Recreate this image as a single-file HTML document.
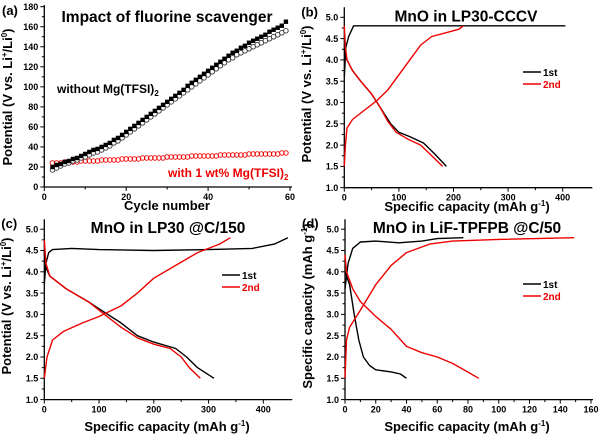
<!DOCTYPE html>
<html><head><meta charset="utf-8"><style>
body{margin:0;background:#fff;width:600px;height:436px;overflow:hidden}
svg{font-family:"Liberation Sans",Arial,sans-serif;font-weight:bold}
</style></head><body>
<svg id="fig" width="600" height="436" viewBox="0 0 600 436" xmlns="http://www.w3.org/2000/svg"></svg>
<script>
// Panel a data
const aCycles=[2,3,4,5,6,7,8,9,10,11,12,13,14,15,16,17,18,19,20,21,22,23,24,25,26,27,28,29,30,31,32,33,34,35,36,37,38,39,40,41,42,43,44,45,46,47,48,49,50,51,52,53,54,55,56,57,58,59];
const aWithoutFilled=[20,22,23,25,26,28,29,31,33,35,37,38,40,42,44,47,49,52,55,58,61,64,67,70,73,76,79,82,85,88,91,94,97,101,104,107,110,113,116,119,122,125,128,131,134,136,139,141,144,146,148,150,152,155,157,159,161,165];
const aWithoutOpen=[17,19,21,23,24,26,27,29,30,32,34,35,37,39,41,44,46,49,52,55,58,61,64,67,70,73,76,79,82,85,88,91,94,97,100,103,106,109,112,115,118,121,124,127,129,132,134,136,138,140,142,144,146,148,150,152,154,156];
const aWith=[24,24,24,25,25,25,25,26,26,26,26,26,27,27,27,27,27,28,28,28,28,28,29,29,29,29,29,29,30,30,30,30,30,30,31,31,31,31,31,31,31,32,32,32,32,32,32,32,33,33,33,33,33,33,33,33,34,34];
const aXTicks=[0,20,40,60];
const aYTicks=[0,20,40,60,80,100,120,140,160,180];
// Panel b data
const b1Dis=[[0,4.25],[5,4.0],[15,3.75],[30,3.5],[50,3.2],[70,2.8],[85,2.5],[100,2.3],[120,2.2],[145,2.05],[165,1.8],[187,1.5]];
const b1Chg=[[0,3.6],[3,4.3],[8,4.55],[17,4.8],[405,4.8]];
const b2Dis=[[0,4.8],[2,4.3],[5,4.0],[15,3.75],[30,3.5],[50,3.2],[65,2.9],[80,2.55],[95,2.3],[115,2.15],[140,2.0],[160,1.75],[180,1.5]];
const b2Chg=[[0,1.5],[2,2.0],[5,2.4],[15,2.6],[35,2.8],[60,3.05],[80,3.3],[100,3.65],[120,4.0],[140,4.35],[160,4.55],[190,4.65],[210,4.72],[218,4.8]];
// Panel c data
const c1Dis=[[0,4.5],[3,4.1],[10,3.9],[40,3.6],[80,3.3],[110,3.05],[140,2.8],[170,2.5],[200,2.35],[240,2.2],[260,2.0],[280,1.75],[310,1.5]];
const c1Chg=[[0,3.7],[3,4.2],[8,4.45],[15,4.52],[50,4.55],[100,4.52],[200,4.5],[300,4.52],[380,4.55],[420,4.65],[445,4.8]];
const c2Dis=[[0,4.75],[3,4.2],[10,3.9],[40,3.6],[80,3.3],[110,3.0],[140,2.7],[170,2.45],[200,2.3],[230,2.2],[250,2.0],[265,1.75],[285,1.5]];
const c2Chg=[[0,1.5],[5,2.0],[15,2.4],[35,2.6],[70,2.8],[100,2.95],[140,3.2],[170,3.5],[200,3.85],[240,4.15],[280,4.45],[320,4.65],[340,4.8]];
// Panel d data
const d1Dis=[[0,4.0],[3,3.7],[6,3.0],[9,2.4],[12,2.0],[16,1.8],[20,1.7],[30,1.65],[36,1.6],[40,1.5]];
const d1Chg=[[0,3.6],[2,4.2],[5,4.55],[10,4.7],[20,4.72],[35,4.68],[50,4.72],[60,4.78],[77,4.8]];
const d2Dis=[[0,4.4],[1,4.0],[5,3.6],[10,3.3],[20,2.95],[30,2.65],[40,2.25],[50,2.1],[60,2.0],[70,1.85],[87,1.5]];
const d2Chg=[[0,1.5],[1,2.4],[3,2.7],[10,3.1],[20,3.7],[30,4.15],[40,4.45],[55,4.65],[70,4.72],[100,4.76],[149,4.8]];
const vTicks=[1.0,1.5,2.0,2.5,3.0,3.5,4.0,4.5,5.0];
const bXTicks=[0,100,200,300,400];
const cXTicks=[0,100,200,300,400];
const dXTicks=[0,20,40,60,80,100,120,140,160];

const svg=document.getElementById('fig');
const NS='http://www.w3.org/2000/svg';
function el(tag,attrs,parent){const e=document.createElementNS(NS,tag);for(const k in attrs)e.setAttribute(k,attrs[k]);(parent||svg).appendChild(e);return e;}
function txt(s,attrs,parent){const e=el('text',attrs,parent);e.textContent=s;return e;}
function scale(d0,d1,p0,p1){return v=>p0+(v-d0)*(p1-p0)/(d1-d0);}

function axes(g,X,Y,xl,xr,yb,yt,xTicks,yTicks,yFmt){
  const ax=el('line',{x1:xl,y1:yb,x2:xr,y2:yb,stroke:'#000','stroke-width':1.3},g);
  
  const ay=el('line',{x1:xl,y1:yb,x2:xl,y2:yt,stroke:'#000','stroke-width':1.3},g);
  
  xTicks.forEach(t=>{const x=X(t);el('line',{x1:x,y1:yb,x2:x,y2:yb+4,stroke:'#000'},g);
    const l=txt(String(t),{x:x,y:yb+13,'font-size':9,'text-anchor':'middle'},g);
    });
  for(let i=0;i<xTicks.length-1;i++){const m=(xTicks[i]+xTicks[i+1])/2;el('line',{x1:X(m),y1:yb,x2:X(m),y2:yb+2.5,stroke:'#000'},g);}
  yTicks.forEach(t=>{const y=Y(t);el('line',{x1:xl,y1:y,x2:xl-4,y2:y,stroke:'#000'},g);
    const l=txt(yFmt(t),{x:xl-6,y:y+3.2,'font-size':9,'text-anchor':'end'},g);
    });
  for(let i=0;i<yTicks.length-1;i++){const m=(yTicks[i]+yTicks[i+1])/2;el('line',{x1:xl,y1:Y(m),x2:xl-2.5,y2:Y(m),stroke:'#000'},g);}
}
function curve(g,X,Y,pts,color,name){
  const p=el('polyline',{points:pts.map(q=>X(q[0]).toFixed(1)+','+Y(q[1]).toFixed(1)).join(' '),fill:'none',stroke:color,'stroke-width':1.4,'stroke-linejoin':'round'},g);
  
}
function legend(g,x,y,color,label,name){
  const lg=el('g',{},g);
  el('line',{x1:x,y1:y,x2:x+18,y2:y,stroke:color,'stroke-width':1.4},lg);
  txt(label,{x:x+20,y:y+4,'font-size':10,fill:color},lg);
}

// Panel a
(function(){
  const g=el('g',{});
  const X=scale(0,60,44.3,290),Y=scale(0,180,187,6.7);
  axes(g,X,Y,44.3,292,187,5,aXTicks,aYTicks,t=>String(t));
  aCycles.forEach((c,i)=>{
    const r=el('circle',{cx:X(c),cy:Y(aWith[i]),r:2.3,fill:'none',stroke:'#e00','stroke-width':0.9},g);
    
  });
  aCycles.forEach((c,i)=>{
    const o=el('circle',{cx:X(c),cy:Y(aWithoutOpen[i]),r:2.3,fill:'#fff',stroke:'#333','stroke-width':0.9},g);
    
  });
  aCycles.forEach((c,i)=>{
    const s=el('rect',{x:X(c)-2.2,y:Y(aWithoutFilled[i])-2.2,width:4.4,height:4.4,fill:'#000'},g);
    
  });
  const t=txt('Impact of fluorine scavenger',{x:167,y:22,'font-size':15.5,'text-anchor':'middle'},g);
  
  const l1=el('text',{x:57,y:93,'font-size':12},g);l1.innerHTML='without Mg(TFSI)<tspan font-size="8" dy="3">2</tspan>';
  
  const l2=el('text',{x:168,y:177,'font-size':12,fill:'#e00'},g);l2.innerHTML='with 1 wt% Mg(TFSI)<tspan font-size="8" dy="3">2</tspan>';
  
  const xt=txt('Cycle number',{x:167,y:210,'font-size':13,'text-anchor':'middle'},g);
  
  const yt=el('text',{x:0,y:0,'font-size':13,'text-anchor':'middle',transform:'translate(12,97) rotate(-90)'},g);
  yt.innerHTML='Potential (V vs. Li<tspan font-size="8" dy="-5">+</tspan><tspan dy="5">/Li</tspan><tspan font-size="8" dy="-5">0</tspan><tspan dy="5">)</tspan>';
  
  const lab=txt('(a)',{x:2,y:15,'font-size':13},g);
})();

function vPanel(name,label,ox,oy,xmax,xTicks,xPx1,title,titleX,series,leg){
  const g=el('g',{});
  const X=scale(0,xmax,ox,xPx1),Y=scale(1.0,5.0,oy+170.4,oy);
  axes(g,X,Y,ox,ox+248,oy+170.4,oy-10,xTicks,vTicks,t=>t.toFixed(1));
  series.forEach(s=>curve(g,X,Y,s[0],s[1],s[2]));
  legend(g,leg[0],leg[1],'#000','1st','legend-1st');
  legend(g,leg[0],leg[1]+12,'#e00','2nd','legend-2nd');
  const t=txt(title,{x:titleX,y:oy+4,'font-size':15.5,'text-anchor':'middle'},g);
  
  const lb=txt(label,{x:ox-43,y:oy-1,'font-size':13},g);
  return g;
}
const redC='#e00';
// b
(function(){
  const g=vPanel('panel-b','(b)',344.3,17.3,400,bXTicks,562.7,'MnO in LP30-CCCV',466,
    [[b1Chg,'#000','b-1st-charge'],[b1Dis,'#000','b-1st-discharge'],[b2Dis,redC,'b-2nd-discharge'],[b2Chg,redC,'b-2nd-charge']],[523,72]);
  const xt=el('text',{x:467,y:211,'font-size':13,'text-anchor':'middle'},g);xt.innerHTML='Specific capacity (mAh g<tspan font-size="8" dy="-5">-1</tspan><tspan dy="5">)</tspan>';
  
  const yt=el('text',{x:0,y:0,'font-size':13,'text-anchor':'middle',transform:'translate(311,94) rotate(-90)'},g);
  yt.innerHTML='Potential (V vs. Li<tspan font-size="8" dy="-5">+</tspan><tspan dy="5">/Li</tspan><tspan font-size="8" dy="-5">0</tspan><tspan dy="5">)</tspan>';
  
})();
// c
(function(){
  const g=vPanel('panel-c','(c)',44.3,229.2,400,cXTicks,263.3,'MnO in LP30 @C/150',168,
    [[c1Chg,'#000','c-1st-charge'],[c1Dis,'#000','c-1st-discharge'],[c2Dis,redC,'c-2nd-discharge'],[c2Chg,redC,'c-2nd-charge']],[222,275]);
  const xt=el('text',{x:167,y:431,'font-size':13,'text-anchor':'middle'},g);xt.innerHTML='Specific capacity (mAh g<tspan font-size="8" dy="-5">-1</tspan><tspan dy="5">)</tspan>';
  
  const yt=el('text',{x:0,y:0,'font-size':13,'text-anchor':'middle',transform:'translate(11,306) rotate(-90)'},g);
  yt.innerHTML='Potential (V vs. Li<tspan font-size="8" dy="-5">+</tspan><tspan dy="5">/Li</tspan><tspan font-size="8" dy="-5">0</tspan><tspan dy="5">)</tspan>';
  
})();
// d
(function(){
  const g=vPanel('panel-d','(d)',345,229.2,160,dXTicks,591,'MnO in LiF-TPFPB @C/50',467,
    [[d1Chg,'#000','d-1st-charge'],[d1Dis,'#000','d-1st-discharge'],[d2Dis,redC,'d-2nd-discharge'],[d2Chg,redC,'d-2nd-charge']],[523,284]);
  const xt=el('text',{x:467,y:431,'font-size':13,'text-anchor':'middle'},g);xt.innerHTML='Specific capacity (mAh g<tspan font-size="8" dy="-5">-1</tspan><tspan dy="5">)</tspan>';
  
  const yt=el('text',{x:0,y:0,'font-size':13,'text-anchor':'middle',transform:'translate(312,306) rotate(-90)'},g);
  yt.innerHTML='Specific capacity (mAh g<tspan font-size="8" dy="-5">-1</tspan><tspan dy="5">)</tspan>';
  
})();
</script>
</body></html>
